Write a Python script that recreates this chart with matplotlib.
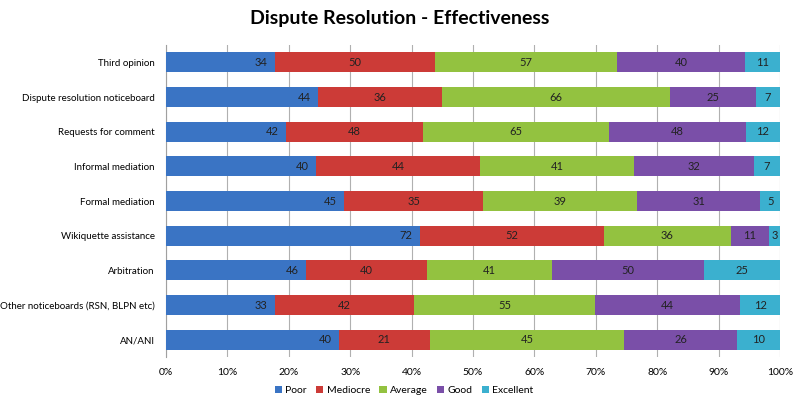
import numpy as np
import matplotlib
matplotlib.use("Agg")
import matplotlib.pyplot as plt
from matplotlib.ticker import PercentFormatter

plt.rcParams['font.family'] = ['Lato', 'DejaVu Sans']

categories = ["Third opinion", "Dispute resolution noticeboard", "Requests for comment",
              "Informal mediation", "Formal mediation", "Wikiquette assistance",
              "Arbitration", "Other noticeboards (RSN, BLPN etc)", "AN/ANI"]
ratings = ["Poor", "Mediocre", "Average", "Good", "Excellent"]
poor = [34, 44, 42, 40, 45, 72, 46, 33, 40]
mediocre = [50, 36, 48, 44, 35, 52, 40, 42, 21]
average = [57, 66, 65, 41, 39, 36, 41, 55, 45]
good = [40, 25, 48, 32, 31, 11, 50, 44, 26]
excellent = [11, 7, 12, 7, 5, 3, 25, 12, 10]
colors = ["#3a74c4", "#cc3b37", "#93c240", "#7a4fa8", "#3bb0cf"]

counts = np.array([poor, mediocre, average, good, excellent], dtype=float)
shares = counts / counts.sum(axis=0) * 100

fig = plt.figure(figsize=(8, 4.09), dpi=100)
ax = fig.add_axes([0.2075, 0.127, 0.7675, 0.763])

y = np.arange(len(categories))
left = np.zeros(len(categories))
for i, name in enumerate(ratings):
    bars = ax.barh(y, shares[i], left=left, height=0.58, color=colors[i],
                   label=name, zorder=3)
    for j, b in enumerate(bars):
        if i == 0:
            x = left[j] + shares[i][j] - 1.2
            ha = 'right'
        else:
            x = left[j] + shares[i][j] / 2
            ha = 'center'
        ax.text(x, y[j], str(int(counts[i][j])), ha=ha, va='center',
                fontsize=8, color='#222222', zorder=4)
    left += shares[i]

ax.set_xlim(0, 100)
ax.set_ylim(len(categories) - 0.5, -0.5)
ax.set_yticks(y)
ax.set_yticklabels(categories, fontsize=7)
ax.set_xticks(np.arange(0, 101, 10))
ax.xaxis.set_major_formatter(PercentFormatter(decimals=0))
ax.tick_params(axis='x', labelsize=7.5, length=0, pad=8)
ax.tick_params(axis='y', length=0, pad=8)
ax.grid(axis='x', color='#b0b0b0', linewidth=0.8, zorder=0)
for s in ['top', 'right', 'bottom']:
    ax.spines[s].set_visible(False)
ax.spines['left'].set_color('#a0a0a0')

fig.suptitle("Dispute Resolution - Effectiveness", fontsize=14, fontweight='bold',
             y=0.975)
fig.legend(loc='center', bbox_to_anchor=(0.505, 0.045), ncol=5, frameon=False,
           fontsize=7.5, handlelength=0.7, handleheight=0.7, handletextpad=0.3,
           columnspacing=0.9)

fig.savefig("out.png", dpi=100)
